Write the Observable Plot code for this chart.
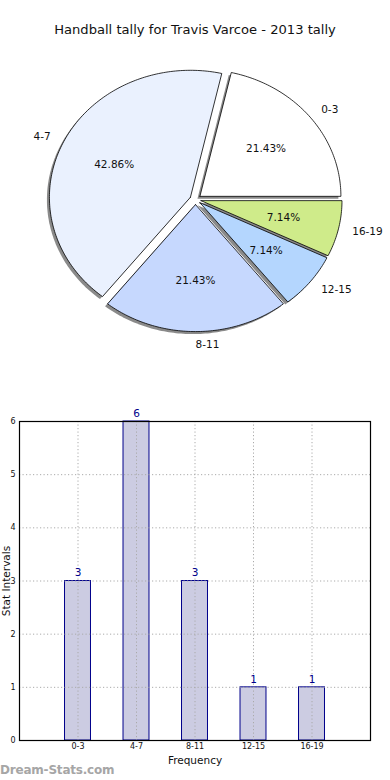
<!DOCTYPE html>
<html>
<head>
<meta charset="utf-8">
<script src="https://cdn.jsdelivr.net/npm/d3@7"></script>
<script src="https://cdn.jsdelivr.net/npm/@observablehq/plot@0.6"></script>
<style>
  html, body { margin: 0; padding: 0; background: #fff; }
  #wrap { position: relative; width: 390px; height: 780px; overflow: hidden; font-family: "DejaVu Sans", sans-serif; }
  #title { position: absolute; top: 22px; left: 0; width: 390px; text-align: center; font-size: 13.1px; color: #111; }
  #pie { position: absolute; top: 0; left: 0; }
  #bar { position: absolute; top: 380px; left: 0; }
  #wm { position: absolute; top: 763px; left: 0; font-size: 12px; color: #a6a6a6; font-weight: bold; letter-spacing: -0.2px; }
</style>
</head>
<body>
<div id="wrap">
  <div id="pie"></div>
  <div id="title">Handball tally for Travis Varcoe - 2013 tally</div>
  <div id="bar"></div>
  <div id="wm">Dream-Stats.com</div>
</div>
<script>
// ---- data ----
const categories = ["0-3", "4-7", "8-11", "12-15", "16-19"];
const counts = [3, 6, 3, 1, 1];
const sliceColors = ["#ffffff", "#eaf1fe", "#c6d8fe", "#b4d6fe", "#cfeb8a"];
const yTicks = [0, 1, 2, 3, 4, 5, 6];
const titleText = "Handball tally for Travis Varcoe - 2013 tally";
const xLabel = "Frequency";
const yLabel = "Stat Intervals";

// ---- pie geometry from data ----
const explode = 0.04;
const total = d3.sum(counts);
let acc = 0;
const slices = categories.map((c, i) => {
  const a0 = acc / total * 360;
  acc += counts[i];
  const a1 = acc / total * 360;
  const mid = (a0 + a1) / 2 * Math.PI / 180;
  const ox = explode * Math.cos(mid), oy = explode * Math.sin(mid);
  return {cat: c, a0, a1, mid, ox, oy, color: sliceColors[i], pct: (counts[i] / total * 100).toFixed(2) + "%"};
});
const piePts = [];
for (const s of slices) {
  piePts.push({cat: s.cat, x: s.ox, y: s.oy, color: s.color});
  const n = Math.max(2, Math.ceil(s.a1 - s.a0));
  for (let k = 0; k <= n; k++) {
    const a = (s.a0 + (s.a1 - s.a0) * k / n) * Math.PI / 180;
    piePts.push({cat: s.cat, x: s.ox + Math.cos(a), y: s.oy + Math.sin(a), color: s.color});
  }
  piePts.push({cat: s.cat, x: s.ox, y: s.oy, color: s.color});
}
const labels = slices.map(s => ({
  text: s.cat,
  x: s.ox + 1.1 * Math.cos(s.mid),
  y: s.oy + 1.1 * Math.sin(s.mid),
  right: Math.cos(s.mid) > -1e-9
}));
const pcts = slices.map(s => ({
  text: s.pct,
  x: s.ox + 0.6 * Math.cos(s.mid),
  y: s.oy + 0.6 * Math.sin(s.mid)
}));

document.getElementById("title").textContent = titleText;

const font = "DejaVu Sans";
const pie = Plot.plot({
  width: 390, height: 380,
  margin: 0,
  style: {fontFamily: font, background: "transparent"},
  x: {domain: [-1, 1], range: [54, 336], axis: null},
  y: {domain: [-1, 1], range: [326, 72], axis: null},
  color: {type: "identity"},
  marks: [
    Plot.line(piePts, {x: "x", y: "y", z: "cat", fill: "#8a8a8a", stroke: "none", dx: -2.5, dy: 2.5, curve: "linear"}),
    Plot.line(piePts, {x: "x", y: "y", z: "cat", fill: "color", stroke: "#000", strokeWidth: 0.8, curve: "linear", strokeLinejoin: "miter"}),
    Plot.text(labels.filter(d => d.right), {x: "x", y: "y", text: "text", textAnchor: "start", fontSize: 10.5, fill: "#111"}),
    Plot.text(labels.filter(d => !d.right), {x: "x", y: "y", text: "text", textAnchor: "end", fontSize: 10.5, fill: "#111"}),
    Plot.text(pcts, {x: "x", y: "y", text: "text", fontSize: 10.5, fill: "#111"})
  ]
});
document.getElementById("pie").appendChild(pie);

// ---- bar chart ----
const bars = categories.map((c, i) => ({cat: c, pos: i + 1, count: counts[i]}));
const positions = bars.map(d => d.pos);
const bar = Plot.plot({
  width: 390, height: 400,
  marginTop: 41, marginBottom: 40, marginLeft: 19, marginRight: 20,
  style: {fontFamily: font, background: "transparent", color: "#111"},
  x: {domain: [0, 6]},
  y: {domain: [0, 6]},
  marks: [
    Plot.rectY(bars, {x1: d => d.pos - 0.222, x2: d => d.pos + 0.222, y: "count", fill: "#cccce2", stroke: "#00008b", strokeWidth: 1}),
    Plot.gridY(yTicks, {stroke: "#aaa", strokeOpacity: 1, strokeDasharray: "1.2,2.3", strokeWidth: 1}),
    Plot.gridX(positions, {stroke: "#aaa", strokeOpacity: 1, strokeDasharray: "1.2,2.3", strokeWidth: 1}),
    Plot.axisY(yTicks, {tickSize: 0, tickPadding: 4, fontSize: 8, label: null, tickFormat: d3.format("d")}),
    Plot.axisX(positions, {tickSize: 0, tickPadding: 3, fontSize: 8, label: null, tickFormat: d => categories[d - 1]}),
    Plot.text(bars, {x: "pos", y: "count", text: d => String(d.count), dy: -8, fill: "#00008b", fontSize: 10.5}),
    Plot.text([xLabel], {frameAnchor: "bottom", dy: 20, lineAnchor: "middle", textAnchor: "middle", fontSize: 10.5, fill: "#111"}),
    Plot.text([yLabel], {frameAnchor: "left", dx: -12.5, rotate: -90, textAnchor: "middle", lineAnchor: "middle", fontSize: 10.5, fill: "#111"}),
    Plot.frame({stroke: "#000", strokeWidth: 1.2})
  ]
});
document.getElementById("bar").appendChild(bar);
</script>
</body>
</html>
